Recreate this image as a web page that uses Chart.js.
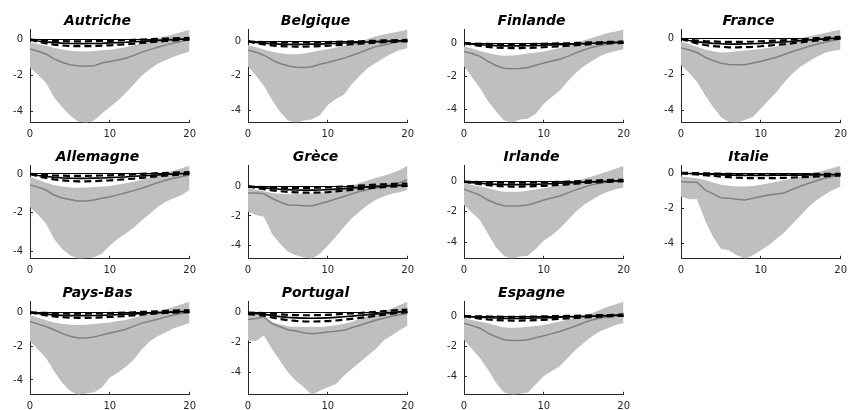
<!DOCTYPE html>
<html>
<head>
<meta charset="utf-8">
<script src="https://cdn.jsdelivr.net/npm/chart.js@4.4.1/dist/chart.umd.min.js"></script>
<style>
    html, body { margin: 0; padding: 0; background: #fff; overflow: hidden; }
    #fig { position: relative; width: 848px; height: 410px; }
    .panel { position: absolute; width: 205px; height: 130px; }
</style>
</head>
<body>
<div id="fig"></div>
<script>
// Panel titles, in plotting order (4 per row)
const countries = ['Autriche', 'Belgique', 'Finlande', 'France', 'Allemagne', 'Grèce',
    'Irlande', 'Italie', 'Pays-Bas', 'Portugal', 'Espagne'];
const horizons = [0, 1, 2, 3, 4, 5, 6, 7, 8, 9, 10, 11, 12, 13, 14, 15, 16, 17, 18, 19, 20];
const xTicks = [0, 10, 20];
const yTicks = [-4, -2, 0];

// Upper edge of the grey band, one row per country
const bandHigh = [
    [-0.15,-0.25,-0.35,-0.45,-0.55,-0.62,-0.65,-0.66,-0.64,-0.6,-0.57,-0.5,-0.43,-0.32,-0.2,-0.06,0.07,0.17,0.3,0.42,0.54],
    [-0.2,-0.33,-0.47,-0.6,-0.68,-0.75,-0.74,-0.7,-0.62,-0.53,-0.45,-0.35,-0.25,-0.13,0,0.15,0.3,0.4,0.5,0.6,0.68],
    [-0.2,-0.33,-0.47,-0.6,-0.7,-0.77,-0.75,-0.7,-0.63,-0.56,-0.5,-0.4,-0.3,-0.15,0,0.15,0.3,0.45,0.6,0.7,0.8],
    [-0.15,-0.3,-0.45,-0.6,-0.7,-0.77,-0.75,-0.7,-0.66,-0.62,-0.58,-0.5,-0.43,-0.3,-0.15,0,0.13,0.22,0.32,0.42,0.5],
    [-0.14,-0.3,-0.45,-0.57,-0.65,-0.7,-0.71,-0.7,-0.68,-0.65,-0.62,-0.55,-0.48,-0.4,-0.3,-0.18,-0.05,0.06,0.17,0.3,0.42],
    [-0.1,-0.22,-0.33,-0.45,-0.5,-0.52,-0.52,-0.5,-0.48,-0.45,-0.35,-0.23,-0.1,0.05,0.23,0.4,0.57,0.73,0.9,1.12,1.4],
    [-0.1,-0.22,-0.33,-0.45,-0.57,-0.67,-0.68,-0.67,-0.6,-0.52,-0.45,-0.33,-0.22,-0.08,0.05,0.19,0.33,0.5,0.67,0.85,1.04],
    [-0.15,-0.2,-0.25,-0.35,-0.5,-0.63,-0.68,-0.73,-0.72,-0.7,-0.63,-0.54,-0.45,-0.35,-0.25,-0.15,-0.04,0.08,0.2,0.33,0.46],
    [-0.15,-0.32,-0.47,-0.6,-0.68,-0.74,-0.75,-0.74,-0.7,-0.65,-0.6,-0.52,-0.45,-0.33,-0.21,-0.08,0.04,0.18,0.33,0.47,0.62],
    [-0.07,-0.18,-0.22,-0.63,-0.8,-0.92,-0.95,-0.97,-0.97,-0.97,-0.92,-0.85,-0.75,-0.63,-0.4,-0.23,-0.07,0.1,0.27,0.5,0.72],
    [-0.15,-0.27,-0.38,-0.48,-0.63,-0.77,-0.78,-0.77,-0.72,-0.66,-0.6,-0.48,-0.37,-0.24,-0.11,0.03,0.18,0.4,0.62,0.78,0.95]
];

// Lower edge of the grey band
const bandLow = [
    [-1.55,-1.95,-2.4,-3.2,-3.75,-4.2,-4.55,-4.62,-4.5,-4.1,-3.75,-3.4,-2.95,-2.5,-2.0,-1.65,-1.35,-1.15,-0.95,-0.8,-0.67],
    [-1.45,-2.0,-2.6,-3.4,-4.1,-4.6,-4.74,-4.6,-4.55,-4.3,-3.7,-3.35,-3.1,-2.5,-2.0,-1.55,-1.25,-0.97,-0.7,-0.5,-0.4],
    [-1.4,-2.05,-2.7,-3.5,-4.1,-4.65,-4.8,-4.6,-4.55,-4.25,-3.65,-3.25,-2.85,-2.3,-1.8,-1.4,-1.1,-0.8,-0.6,-0.47,-0.37],
    [-1.45,-1.9,-2.4,-3.15,-3.8,-4.37,-4.65,-4.7,-4.55,-4.37,-3.9,-3.43,-2.96,-2.4,-1.93,-1.55,-1.27,-1.0,-0.8,-0.67,-0.62],
    [-1.7,-2.1,-2.56,-3.34,-3.86,-4.2,-4.38,-4.35,-4.3,-4.12,-3.69,-3.34,-3.08,-2.77,-2.39,-2.05,-1.7,-1.44,-1.26,-1.09,-0.83],
    [-1.7,-1.93,-2.05,-3.2,-3.86,-4.43,-4.66,-4.82,-4.9,-4.55,-4.0,-3.4,-2.77,-2.16,-1.7,-1.25,-0.9,-0.68,-0.5,-0.39,-0.23],
    [-1.55,-2.05,-2.55,-3.44,-4.33,-4.9,-5.1,-4.95,-4.9,-4.44,-3.9,-3.55,-3.1,-2.55,-2.0,-1.55,-1.22,-0.9,-0.67,-0.5,-0.4],
    [-1.3,-1.46,-1.46,-2.65,-3.6,-4.3,-4.38,-4.67,-4.87,-4.67,-4.38,-4.1,-3.7,-3.33,-2.85,-2.37,-1.88,-1.5,-1.2,-0.92,-0.73],
    [-1.72,-2.2,-2.7,-3.47,-4.15,-4.64,-4.88,-4.8,-4.74,-4.45,-3.86,-3.57,-3.22,-2.79,-2.2,-1.72,-1.42,-1.19,-0.94,-0.8,-0.64],
    [-1.87,-1.91,-1.53,-2.43,-3.21,-4.0,-4.56,-5.0,-5.5,-5.23,-5.0,-4.79,-4.22,-3.78,-3.33,-2.88,-2.43,-1.87,-1.53,-1.19,-0.85],
    [-1.58,-2.2,-2.8,-3.56,-4.44,-5.1,-5.25,-5.2,-5.1,-4.55,-4.0,-3.67,-3.34,-2.8,-2.24,-1.8,-1.36,-1.03,-0.81,-0.59,-0.44]
];

// Grey median line
const median = [
    [-0.52,-0.65,-0.8,-1.07,-1.26,-1.4,-1.46,-1.48,-1.46,-1.3,-1.22,-1.13,-1.04,-0.88,-0.7,-0.56,-0.43,-0.31,-0.2,-0.1,0],
    [-0.5,-0.63,-0.8,-1.07,-1.28,-1.42,-1.5,-1.52,-1.47,-1.33,-1.22,-1.1,-0.97,-0.82,-0.65,-0.47,-0.3,-0.2,-0.1,-0.02,0.05],
    [-0.5,-0.63,-0.8,-1.1,-1.35,-1.52,-1.55,-1.53,-1.47,-1.33,-1.2,-1.08,-0.97,-0.8,-0.6,-0.42,-0.26,-0.15,-0.06,0,0.04],
    [-0.52,-0.62,-0.77,-1.03,-1.22,-1.37,-1.44,-1.46,-1.46,-1.36,-1.27,-1.15,-1.03,-0.87,-0.71,-0.57,-0.43,-0.31,-0.2,-0.1,-0.02],
    [-0.57,-0.68,-0.83,-1.09,-1.24,-1.32,-1.4,-1.4,-1.35,-1.26,-1.18,-1.08,-0.97,-0.86,-0.74,-0.6,-0.45,-0.33,-0.22,-0.13,-0.05],
    [-0.45,-0.45,-0.5,-0.8,-1.05,-1.25,-1.27,-1.3,-1.32,-1.17,-1.02,-0.85,-0.68,-0.5,-0.34,-0.22,-0.11,0,0.11,0.27,0.45],
    [-0.5,-0.7,-0.9,-1.22,-1.45,-1.6,-1.62,-1.6,-1.55,-1.4,-1.22,-1.08,-0.95,-0.75,-0.55,-0.38,-0.22,-0.12,-0.05,0.03,0.11],
    [-0.44,-0.48,-0.48,-0.92,-1.15,-1.37,-1.4,-1.46,-1.5,-1.4,-1.3,-1.22,-1.15,-1.08,-0.88,-0.7,-0.54,-0.4,-0.25,-0.15,-0.06],
    [-0.55,-0.7,-0.84,-1.03,-1.25,-1.42,-1.52,-1.52,-1.46,-1.35,-1.23,-1.12,-1.0,-0.82,-0.64,-0.53,-0.41,-0.28,-0.16,-0.07,0],
    [-0.47,-0.4,-0.3,-0.74,-0.95,-1.15,-1.24,-1.35,-1.42,-1.36,-1.3,-1.25,-1.19,-1.02,-0.85,-0.68,-0.52,-0.38,-0.25,-0.15,-0.07],
    [-0.48,-0.64,-0.81,-1.14,-1.38,-1.58,-1.63,-1.63,-1.58,-1.45,-1.32,-1.17,-1.03,-0.85,-0.66,-0.45,-0.26,-0.14,-0.04,0.07,0.18]
];

// Solid black response
const estimate = [
    [0,-0.08,-0.13,-0.17,-0.2,-0.22,-0.23,-0.23,-0.22,-0.21,-0.19,-0.17,-0.15,-0.12,-0.1,-0.07,-0.05,-0.02,0,0.02,0.04],
    [0,-0.06,-0.1,-0.13,-0.15,-0.17,-0.17,-0.17,-0.16,-0.15,-0.13,-0.11,-0.09,-0.07,-0.05,-0.03,-0.01,0.01,0.02,0.04,0.05],
    [0,-0.06,-0.1,-0.13,-0.15,-0.17,-0.17,-0.17,-0.16,-0.15,-0.13,-0.11,-0.09,-0.07,-0.05,-0.03,-0.01,0.01,0.03,0.04,0.05],
    [0,-0.1,-0.17,-0.22,-0.26,-0.28,-0.3,-0.3,-0.29,-0.28,-0.26,-0.23,-0.2,-0.17,-0.14,-0.1,-0.07,-0.04,-0.01,0.02,0.05],
    [0,-0.08,-0.13,-0.17,-0.2,-0.22,-0.23,-0.23,-0.22,-0.21,-0.19,-0.17,-0.15,-0.12,-0.1,-0.07,-0.05,-0.02,0,0.02,0.04],
    [0,-0.05,-0.1,-0.15,-0.19,-0.22,-0.24,-0.25,-0.25,-0.24,-0.21,-0.18,-0.14,-0.1,-0.06,-0.03,0,0.03,0.06,0.08,0.1],
    [0,-0.07,-0.11,-0.15,-0.18,-0.2,-0.2,-0.2,-0.19,-0.18,-0.16,-0.14,-0.11,-0.09,-0.06,-0.04,-0.02,0,0.02,0.04,0.05],
    [0.03,0.02,0,-0.02,-0.04,-0.06,-0.07,-0.08,-0.09,-0.09,-0.09,-0.09,-0.08,-0.08,-0.07,-0.07,-0.06,-0.06,-0.05,-0.05,-0.05],
    [0,-0.07,-0.11,-0.15,-0.18,-0.2,-0.2,-0.2,-0.19,-0.18,-0.16,-0.14,-0.11,-0.09,-0.06,-0.04,-0.02,0,0.02,0.04,0.05],
    [-0.05,-0.08,-0.1,-0.2,-0.27,-0.32,-0.35,-0.37,-0.38,-0.37,-0.35,-0.32,-0.28,-0.24,-0.19,-0.14,-0.09,-0.04,0,0.04,0.07],
    [0,-0.05,-0.08,-0.11,-0.13,-0.15,-0.15,-0.15,-0.14,-0.13,-0.12,-0.1,-0.08,-0.06,-0.04,-0.02,0,0.01,0.03,0.04,0.05]
];

// Dashed black bounds
const dashUpper = [
    [0,-0.03,-0.06,-0.08,-0.09,-0.1,-0.1,-0.1,-0.09,-0.08,-0.07,-0.05,-0.04,-0.02,0,0.02,0.04,0.05,0.07,0.08,0.1],
    [0,-0.02,-0.03,-0.04,-0.05,-0.06,-0.06,-0.06,-0.05,-0.04,-0.03,-0.02,-0.01,0,0.01,0.03,0.04,0.06,0.07,0.08,0.1],
    [0,-0.02,-0.04,-0.05,-0.06,-0.07,-0.07,-0.07,-0.06,-0.05,-0.04,-0.03,-0.02,-0.01,0.01,0.02,0.04,0.05,0.07,0.08,0.09],
    [0,-0.06,-0.1,-0.13,-0.15,-0.17,-0.18,-0.18,-0.17,-0.16,-0.14,-0.12,-0.1,-0.08,-0.05,-0.03,0,0.03,0.05,0.08,0.1],
    [0,-0.03,-0.06,-0.08,-0.09,-0.1,-0.1,-0.1,-0.09,-0.08,-0.07,-0.05,-0.04,-0.02,0,0.02,0.04,0.05,0.07,0.08,0.1],
    [0,-0.02,-0.04,-0.06,-0.08,-0.09,-0.1,-0.1,-0.09,-0.08,-0.06,-0.03,0,0.03,0.06,0.09,0.12,0.15,0.17,0.19,0.2],
    [0,-0.02,-0.04,-0.06,-0.07,-0.08,-0.08,-0.08,-0.07,-0.06,-0.05,-0.03,-0.02,0,0.02,0.04,0.06,0.08,0.1,0.11,0.12],
    [0.05,0.05,0.04,0.03,0.02,0.01,0,-0.01,-0.02,-0.02,-0.02,-0.02,-0.02,-0.02,-0.01,-0.01,-0.01,0,0,0,0],
    [0,-0.02,-0.04,-0.06,-0.07,-0.08,-0.08,-0.08,-0.07,-0.06,-0.05,-0.03,-0.02,0,0.02,0.04,0.06,0.08,0.1,0.11,0.12],
    [0,-0.02,-0.03,-0.08,-0.12,-0.15,-0.17,-0.18,-0.18,-0.17,-0.15,-0.12,-0.09,-0.06,-0.03,0.01,0.05,0.09,0.13,0.17,0.2],
    [0,-0.01,-0.02,-0.03,-0.04,-0.05,-0.05,-0.05,-0.04,-0.03,-0.02,-0.01,0,0.01,0.02,0.03,0.05,0.06,0.07,0.08,0.1]
];
const dashLower = [
    [0,-0.12,-0.21,-0.28,-0.33,-0.36,-0.37,-0.37,-0.36,-0.34,-0.32,-0.29,-0.26,-0.23,-0.19,-0.15,-0.12,-0.08,-0.05,-0.02,0],
    [0,-0.1,-0.17,-0.23,-0.27,-0.29,-0.3,-0.3,-0.29,-0.27,-0.25,-0.22,-0.19,-0.16,-0.13,-0.1,-0.07,-0.04,-0.02,0,0.01],
    [0,-0.1,-0.17,-0.23,-0.27,-0.29,-0.3,-0.3,-0.29,-0.27,-0.25,-0.22,-0.19,-0.16,-0.13,-0.1,-0.07,-0.04,-0.02,0,0.01],
    [0,-0.15,-0.26,-0.35,-0.41,-0.45,-0.48,-0.48,-0.47,-0.45,-0.42,-0.38,-0.34,-0.3,-0.25,-0.2,-0.15,-0.1,-0.06,-0.02,0.01],
    [0,-0.12,-0.21,-0.28,-0.33,-0.36,-0.38,-0.38,-0.37,-0.35,-0.33,-0.3,-0.27,-0.24,-0.2,-0.16,-0.12,-0.09,-0.06,-0.03,0],
    [0,-0.1,-0.18,-0.26,-0.32,-0.37,-0.4,-0.42,-0.42,-0.41,-0.38,-0.33,-0.28,-0.23,-0.17,-0.12,-0.08,-0.04,-0.01,0.02,0.04],
    [0,-0.1,-0.18,-0.24,-0.29,-0.32,-0.33,-0.33,-0.32,-0.3,-0.28,-0.25,-0.22,-0.18,-0.14,-0.1,-0.07,-0.04,-0.02,0,0.01],
    [0.02,0,-0.04,-0.08,-0.12,-0.16,-0.19,-0.22,-0.24,-0.25,-0.25,-0.25,-0.24,-0.23,-0.21,-0.19,-0.17,-0.15,-0.13,-0.11,-0.1],
    [0,-0.1,-0.18,-0.24,-0.29,-0.32,-0.33,-0.33,-0.32,-0.3,-0.28,-0.25,-0.22,-0.18,-0.14,-0.1,-0.07,-0.04,-0.02,0,0.01],
    [-0.1,-0.15,-0.2,-0.33,-0.43,-0.51,-0.56,-0.59,-0.6,-0.59,-0.57,-0.53,-0.48,-0.42,-0.36,-0.29,-0.22,-0.15,-0.08,-0.02,0.02],
    [0,-0.1,-0.17,-0.23,-0.27,-0.29,-0.3,-0.3,-0.29,-0.27,-0.25,-0.22,-0.19,-0.16,-0.13,-0.1,-0.07,-0.04,-0.02,0,0.01]
];

// Panel placement (canvas top-left corners)
const colLeft = [0, 218, 434, 651];
const rowTop = [13.2, 148.9, 284.9];

const axisColor = '#262626';
const tickFont = { family: "'DejaVu Sans', sans-serif", size: 10 };

function makePanel(i) {
    const box = document.createElement('div');
    box.className = 'panel';
    box.style.left = colLeft[i % 4] + 'px';
    box.style.top = rowTop[Math.floor(i / 4)] + 'px';
    const canvas = document.createElement('canvas');
    box.appendChild(canvas);
    document.getElementById('fig').appendChild(box);

    const line = (data, color, width, dash) => ({
        data: data,
        borderColor: color,
        borderWidth: width,
        borderDash: dash || [],
        pointRadius: 0,
        fill: false
    });

    // Chart.js paints dataset 0 last, so the band goes at the end of the list
    new Chart(canvas, {
        type: 'line',
        data: {
            labels: horizons,
            datasets: [
                line(estimate[i], '#000', 1.7),
                line(dashUpper[i], '#000', 2.2, [7, 4]),
                line(dashLower[i], '#000', 2.2, [7, 4]),
                line(median[i], '#808080', 1.5),
                { data: bandHigh[i], borderColor: 'transparent', borderWidth: 0, pointRadius: 0,
                  fill: '+1', backgroundColor: '#bfbfbf' },
                { data: bandLow[i], borderColor: 'transparent', borderWidth: 0, pointRadius: 0, fill: false }
            ]
        },
        options: {
            responsive: true,
            maintainAspectRatio: false,
            animation: false,
            layout: { padding: { left: 0, right: 10, top: 0, bottom: 0 } },
            elements: { line: { tension: 0 } },
            plugins: {
                legend: { display: false },
                tooltip: { enabled: false },
                title: {
                    display: true,
                    text: countries[i],
                    color: '#000',
                    padding: 0,
                    font: { family: "'DejaVu Sans', sans-serif", size: 14, weight: 'bold', style: 'italic' }
                }
            },
            scales: {
                x: {
                    type: 'linear',
                    min: horizons[0],
                    max: horizons[horizons.length - 1],
                    afterBuildTicks: s => { s.ticks = xTicks.map(v => ({ value: v })); },
                    afterFit: s => { s.height = 20.2; },
                    border: { display: true, color: axisColor, width: 1 },
                    grid: { drawOnChartArea: false, tickLength: -3, tickColor: axisColor },
                    ticks: { color: axisColor, padding: 9, maxRotation: 0, autoSkip: false, font: tickFont }
                },
                y: {
                    min: Math.min(...bandLow[i]),
                    max: Math.max(...bandHigh[i]),
                    afterBuildTicks: s => { s.ticks = yTicks.map(v => ({ value: v })); },
                    afterFit: s => { s.width = 30; },
                    border: { display: true, color: axisColor, width: 1 },
                    // only the zero level gets a line across the panel
                    grid: {
                        color: ctx => (ctx.tick && ctx.tick.value === 0) ? '#000' : 'transparent',
                        tickLength: -3,
                        tickColor: axisColor
                    },
                    ticks: { color: axisColor, padding: 10, font: tickFont }
                }
            }
        }
    });
}

countries.forEach((c, i) => makePanel(i));
</script>
</body>
</html>
